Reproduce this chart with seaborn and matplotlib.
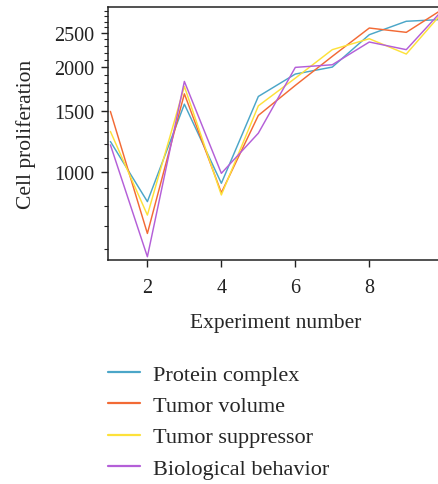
import numpy as np
import pandas as pd
import seaborn as sns
import matplotlib.pyplot as plt
from matplotlib.ticker import FixedLocator, NullFormatter, FuncFormatter

# values (log y axis)
experiment = [1, 2, 3, 4, 5, 6, 7, 8, 9, 10]
protein_complex = [1223, 822, 1565, 928, 1647, 1910, 2000, 2477, 2707, 2740]
tumor_volume = [1492, 666, 1676, 872, 1453, 1772, 2147, 2589, 2516, 2940]
tumor_suppressor = [1307, 752, 1760, 859, 1548, 1859, 2244, 2412, 2180, 2886]
biological_behavior = [1196, 571, 1819, 991, 1292, 1996, 2031, 2360, 2244, 2930]

series_names = ['Protein complex', 'Tumor volume', 'Tumor suppressor', 'Biological behavior']
series_colors = ['#4ba6c8', '#f26a35', '#fde13a', '#b45fd8']
y_major = [1000, 1500, 2000, 2500]
x_major = [2, 4, 6, 8]

df = pd.DataFrame({
    'Experiment number': experiment * 4,
    'Cell proliferation': protein_complex + tumor_volume + tumor_suppressor + biological_behavior,
    'series': [n for n in series_names for _ in experiment],
})

sns.set_style('ticks')
plt.rcParams['font.family'] = ['Liberation Serif', 'DejaVu Serif']

fig = plt.figure(figsize=(4.38, 4.85), dpi=100)
ax = fig.add_axes([0.247, 0.4625, 0.765, 0.5205])

sns.lineplot(data=df, x='Experiment number', y='Cell proliferation', hue='series',
             hue_order=series_names, palette=series_colors, linewidth=1.05,
             legend=True, ax=ax)

ax.set_yscale('log')
ax.set_ylim(560, 2970)
ax.set_xlim(0.94, 10)
ax.yaxis.set_major_locator(FixedLocator(y_major))
ax.yaxis.set_major_formatter(FuncFormatter(lambda v, p: f'{int(v)}'))
minor = [v for v in range(600, 3000, 100) if v not in y_major]
ax.yaxis.set_minor_locator(FixedLocator(minor))
ax.yaxis.set_minor_formatter(NullFormatter())
ax.set_xticks(x_major)
ax.xaxis.set_minor_locator(FixedLocator([]))

ax.tick_params(axis='both', which='major', direction='out', length=5, width=1,
               labelsize=14.5, colors='#222222')
ax.tick_params(axis='y', which='major', pad=5)
ax.tick_params(axis='x', which='major', pad=8)
ax.tick_params(axis='y', which='minor', direction='out', length=3, width=0.8)
for s in ax.spines.values():
    s.set_linewidth(1.1)
    s.set_color('#222222')

ax.set_xlabel('Experiment number', fontsize=15.5, labelpad=12)
ax.set_ylabel('Cell proliferation', fontsize=15.5, labelpad=13)

handles, labels = ax.get_legend_handles_labels()
ax.get_legend().remove()
leg = fig.legend(handles, labels, loc='upper left', bbox_to_anchor=(0.202, 0.288),
                 frameon=False, fontsize=16, handlelength=1.4, handletextpad=0.6,
                 labelspacing=0.48)
for line in leg.get_lines():
    line.set_linewidth(1.6)

fig.savefig('out.png', dpi=100)
